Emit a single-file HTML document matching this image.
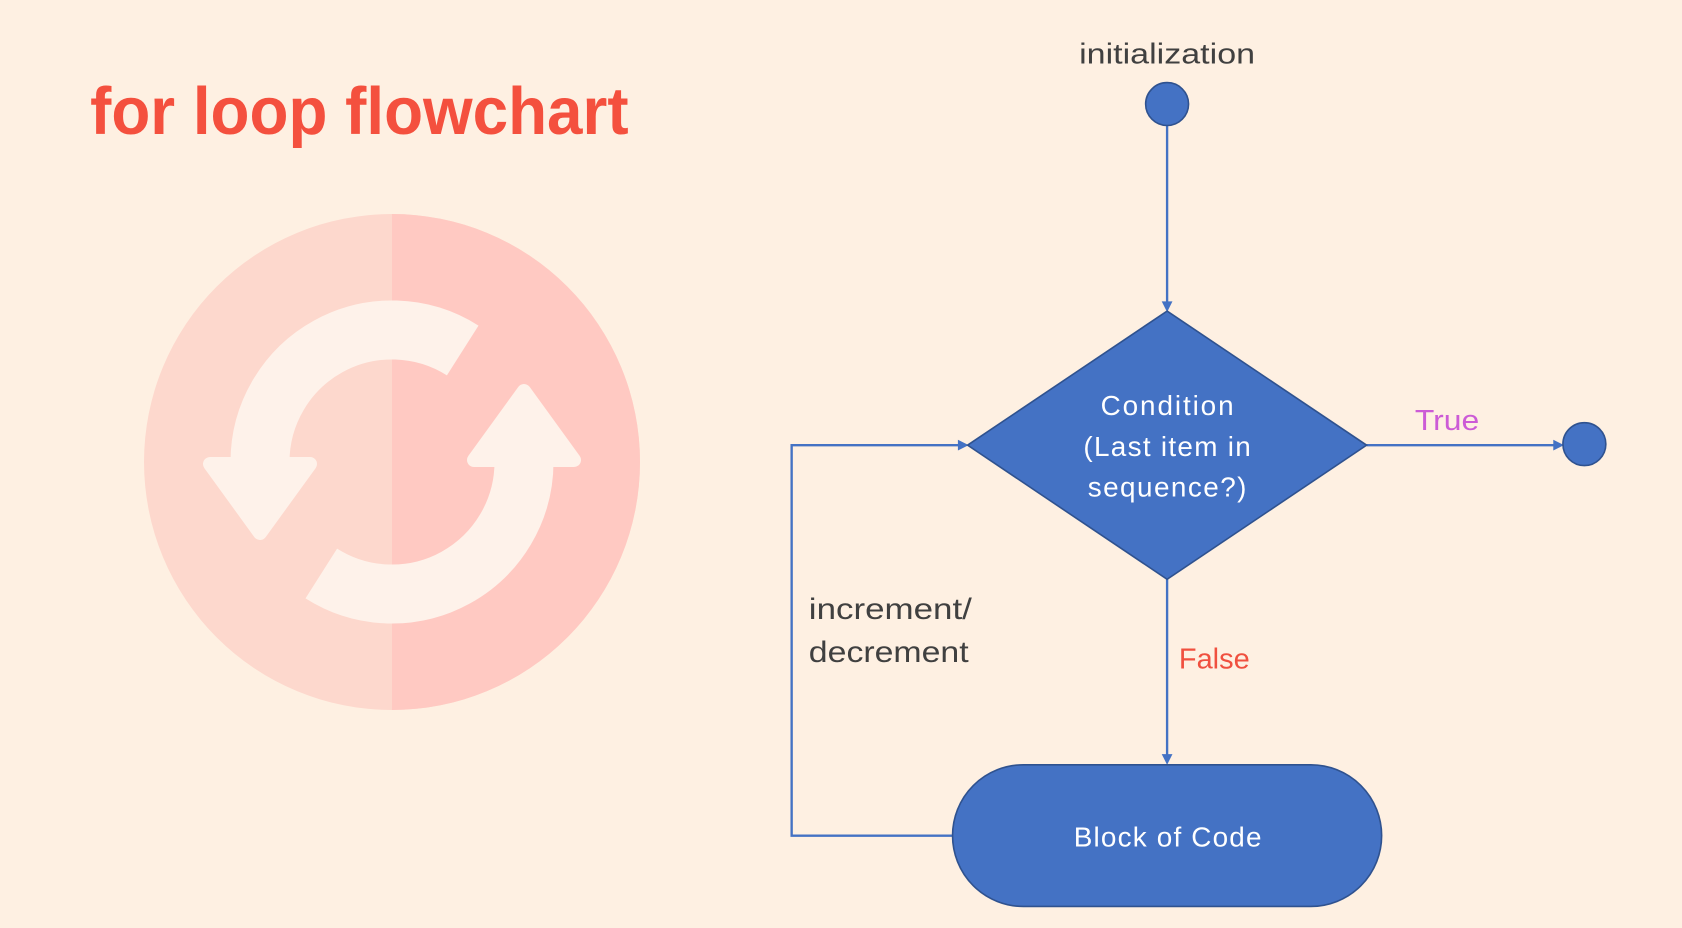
<!DOCTYPE html>
<html><head><meta charset="utf-8"><style>
html,body{margin:0;padding:0;background:#fef0e2;}
svg{display:block;}
</style></head><body>
<svg width="1682" height="928" viewBox="0 0 1682 928" xmlns="http://www.w3.org/2000/svg">
<rect width="1682" height="928" fill="#fef0e2"/>
<defs><clipPath id="rh"><rect x="392" y="0" width="400" height="928"/></clipPath></defs>
<g>
<circle cx="392" cy="462" r="248" fill="#fdd8cd"/>
<circle cx="392" cy="462" r="248" fill="#ffc9c2" clip-path="url(#rh)"/>
<g fill="#fef2ea" stroke="#fef2ea">
<path d="M260,462 A132,132 0 0 1 462.7,350.5" fill="none" stroke-width="59" stroke-linecap="butt"/>
<path d="M524,462 A132,132 0 0 1 321.3,573.5" fill="none" stroke-width="59" stroke-linecap="butt"/>
<g stroke-width="14" stroke-linejoin="round">
<polygon points="210,464 310,464 260,533"/>
<polygon points="574,460 474,460 524,391"/>
</g>
</g>
</g>
<g transform="scale(1.0727)" font-family="'Liberation Sans', sans-serif">
<text x="84" y="125" font-size="62" font-weight="bold" fill="#f4503e" textLength="502" lengthAdjust="spacingAndGlyphs">for loop flowchart</text>
<text x="1006" y="59" font-size="27" fill="#404040" textLength="164" lengthAdjust="spacingAndGlyphs">initialization</text>
<g stroke="#4472c4" stroke-width="2.2" fill="none">
<line x1="1088" y1="117" x2="1088" y2="284"/>
<line x1="1274" y1="415" x2="1451" y2="415"/>
<line x1="1088" y1="540" x2="1088" y2="706"/>
<polyline points="888,779 738,779 738,415 896,415"/>
</g>
<g fill="#4472c4">
<polygon points="1083,281 1093,281 1088,291"/>
<polygon points="1448,410 1448,420 1458,415"/>
<polygon points="1083,703 1093,703 1088,713"/>
<polygon points="893,410 893,420 903,415"/>
</g>
<circle cx="1088" cy="97" r="20" fill="#4472c4" stroke="#2f528f" stroke-width="1.5"/>
<circle cx="1477" cy="414" r="20" fill="#4472c4" stroke="#2f528f" stroke-width="1.5"/>
<polygon points="1088,290 1274,415 1088,540 902,415" fill="#4472c4" stroke="#2f528f" stroke-width="1.5"/>
<rect x="888" y="713" width="400" height="132" rx="66" fill="#4472c4" stroke="#2f528f" stroke-width="1.5"/>
<g fill="#ffffff" font-size="26" lengthAdjust="spacingAndGlyphs">
<text x="1026" y="387" textLength="124">Condition</text>
<text x="1010" y="425" textLength="156">(Last item in</text>
<text x="1014" y="463" textLength="148">sequence?)</text>
<text x="1001" y="789" textLength="175">Block of Code</text>
</g>
<text x="1319" y="401" font-size="27" fill="#cc5bd6" textLength="60" lengthAdjust="spacingAndGlyphs">True</text>
<text x="1099" y="623" font-size="27" fill="#f0503f" textLength="66" lengthAdjust="spacingAndGlyphs">False</text>
<text x="754" y="577" font-size="28" fill="#404040" textLength="152" lengthAdjust="spacingAndGlyphs">increment/</text>
<text x="754" y="617" font-size="28" fill="#404040" textLength="149" lengthAdjust="spacingAndGlyphs">decrement</text>
</g>
</svg>
</body></html>
